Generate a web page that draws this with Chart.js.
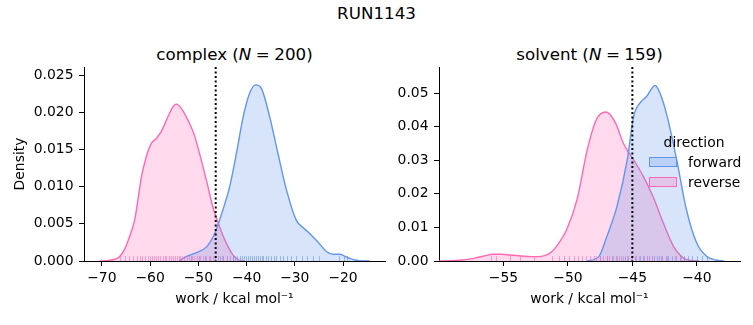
<!DOCTYPE html>
<html><head><meta charset="utf-8">
<script src="https://cdn.jsdelivr.net/npm/chart.js@4/dist/chart.umd.min.js"></script>
<style>
html,body{margin:0;padding:0;background:#fff;}
body{width:753px;height:325px;position:relative;overflow:hidden;font-family:"DejaVu Sans",sans-serif;color:#000;}
canvas{position:absolute;top:0;}
.t{position:absolute;white-space:nowrap;text-align:center;font-size:16.7px;line-height:20px;}
.lg{position:absolute;font-size:13.9px;line-height:16px;white-space:nowrap;}
.pt{position:absolute;width:28px;height:10px;box-sizing:border-box;}
.sp{display:inline-block;width:4.5px;}
</style></head><body>
<div class="t" style="left:0;width:753px;top:3px;">RUN1143</div>
<div class="t" style="left:84px;width:301px;top:44px;">complex (<i>N</i><span class="sp"></span>=<span class="sp"></span>200)</div>
<div class="t" style="left:439px;width:301px;top:44px;">solvent (<i>N</i><span class="sp"></span>=<span class="sp"></span>159)</div>
<canvas id="c1" width="390" height="325" style="left:0;"></canvas>
<canvas id="c2" width="363" height="325" style="left:390px;"></canvas>
<div class="lg" style="left:0;width:1388px;text-align:center;top:134px;">direction</div>
<div class="pt" style="left:649px;top:157px;background:rgba(100,149,237,0.25);border:1px solid rgb(100,149,237);"></div>
<div class="pt" style="left:649px;top:177px;background:rgba(255,105,180,0.25);border:1px solid rgb(255,105,180);"></div>
<div class="lg" style="left:688px;top:154px;">forward</div>
<div class="lg" style="left:688px;top:174px;">reverse</div>
<script>
// ---- data ----
const complexRevX = [-70.5,-69.1,-67.5,-66.3,-65.2,-64.25,-63.2,-62.5,-61.8,-60.8,-59.75,-58.7,-57.7,-56.3,-55.3,-54.57,-53.6,-52.5,-51.6,-50.8,-49.4,-48.0,-47.0,-45.6,-44.2,-42.8,-41.8,-40.5];
const complexRevY = [0,0.00005,0.0002,0.0006,0.0017,0.0033,0.0055,0.0083,0.0113,0.0140,0.0158,0.0165,0.0174,0.0194,0.0207,0.0211,0.0206,0.0194,0.0182,0.0169,0.0136,0.0100,0.0073,0.0046,0.0024,0.0008,0.0002,0];
const complexFwdX = [-54,-52.5,-50.5,-48.3,-46.6,-44.9,-43.5,-42.1,-40.7,-39.4,-38.1,-36.9,-35.2,-33.5,-31.7,-29.7,-28.3,-26.9,-25,-23.4,-22,-20.7,-19.5,-18.6,-17.3,-15.9,-14.5];
const complexFwdY = [0,0.0006,0.0011,0.0019,0.0037,0.0069,0.0100,0.0145,0.0194,0.0225,0.0237,0.0232,0.0194,0.0145,0.0095,0.0055,0.0045,0.0037,0.0024,0.00125,0.0009,0.0009,0.0006,0.00036,0.0001,0,0];
const solventRevX = [-60,-59.1,-58.2,-57.3,-56.5,-55.8,-55.1,-54.5,-53.6,-52.9,-52.3,-51.8,-51.3,-50.9,-50.1,-49.3,-48.5,-47.8,-47.04,-46.3,-45.7,-44.9,-44.15,-43.4,-42.6,-41.8,-41.0,-40.5,-39.8];
const solventRevY = [0,0.0001,0.0003,0.0008,0.0015,0.0020,0.0020,0.0018,0.0015,0.0013,0.0013,0.0016,0.0026,0.0043,0.0093,0.0182,0.0331,0.0421,0.0444,0.0411,0.0351,0.0301,0.0252,0.0192,0.0113,0.0043,0.0008,0.0002,0];
const solventFwdX = [-48.5,-47.6,-46.98,-46.2,-45.4,-44.9,-44.4,-43.9,-43.24,-42.85,-42.3,-41.56,-40.8,-40.0,-39.2,-38.5,-37.9];
const solventFwdY = [0,0.0013,0.0073,0.0162,0.0301,0.0431,0.0471,0.049,0.0523,0.050,0.0431,0.0301,0.0152,0.0053,0.0013,0.0003,0];

const complexRevRug = [-66.2,-65.1,-64.3,-63.5,-62.8,-62.1,-61.6,-61.0,-60.5,-60.1,-59.6,-59.2,-58.8,-58.3,-57.9,-57.4,-57.0,-56.6,-56.1,-55.7,-55.3,-54.9,-54.5,-54.1,-53.7,-53.3,-52.9,-52.4,-51.9,-51.4,-50.9,-50.3,-49.7,-49.1,-48.4,-47.7,-46.9,-46.0,-45.1,-44.0,-42.9];
const complexFwdRug = [-51.5,-49.8,-48.6,-47.5,-46.5,-45.6,-44.8,-44.1,-43.5,-42.9,-42.4,-41.9,-41.4,-40.9,-40.5,-40.1,-39.7,-39.3,-38.9,-38.5,-38.1,-37.7,-37.3,-36.9,-36.5,-36.0,-35.5,-35.0,-34.4,-33.8,-33.1,-32.4,-31.6,-30.7,-29.8,-28.6,-27.4,-26.2,-25.0,-20.8,-19.9,-19.2];
const solventRevRug = [-56.0,-55.6,-54.5,-53.7,-52.6,-51.2,-50.7,-50.3,-49.9,-49.5,-49.2,-48.9,-48.6,-48.3,-48.0,-47.8,-47.5,-47.3,-47.0,-46.8,-46.5,-46.3,-46.0,-45.7,-45.4,-45.1,-44.8,-44.5,-44.1,-43.7,-43.3,-42.8,-42.3,-41.7,-41.2];
const solventFwdRug = [-47.5,-47.0,-46.6,-46.2,-45.9,-45.6,-45.3,-45.0,-44.7,-44.4,-44.2,-43.9,-43.7,-43.5,-43.3,-43.1,-42.9,-42.7,-42.4,-42.2,-41.9,-41.6,-41.3,-41.0,-40.7,-40.4,-40.0,-39.6,-39.2];

const complexDG = -46.4;
const solventDG = -45.0;

const xTicksL = [-70,-60,-50,-40,-30,-20];
const yTicksL = [0,0.005,0.010,0.015,0.020,0.025];
const xTicksR = [-55,-50,-45,-40];
const yTicksR = [0,0.01,0.02,0.03,0.04,0.05];

// ---- styling ----
const BLUE = 'rgb(100,149,237)', BLUE_F = 'rgba(100,149,237,0.25)', BLUE_R = 'rgba(100,149,237,0.6)';
const PINK = 'rgb(255,105,180)', PINK_F = 'rgba(255,105,180,0.25)', PINK_R = 'rgba(255,105,180,0.6)';
Chart.defaults.color = '#000';
Chart.defaults.font.family = '"DejaVu Sans", sans-serif';
Chart.defaults.font.size = 13.9;

const pts = (xs, ys) => xs.map((x, i) => ({x, y: ys[i]}));
const minus = v => String(v).replace('-', '\u2212');

const overlay = {
  id: 'overlay',
  afterDatasetsDraw(chart, args, o) {
    const {ctx, chartArea: a, scales: {x}} = chart;
    ctx.save();
    const h = (a.bottom - a.top) * 0.025;
    ctx.lineWidth = 1;
    o.rugs.forEach(r => {
      ctx.strokeStyle = r.color;
      r.values.forEach(v => {
        const px = Math.round(x.getPixelForValue(v)) + 0.5;
        ctx.beginPath(); ctx.moveTo(px, a.bottom); ctx.lineTo(px, a.bottom - h); ctx.stroke();
      });
    });
    const px = x.getPixelForValue(o.dg);
    ctx.strokeStyle = '#000'; ctx.lineWidth = 2; ctx.setLineDash([2, 2.5]);
    ctx.beginPath(); ctx.moveTo(px, a.top); ctx.lineTo(px, a.bottom); ctx.stroke();
    ctx.restore();
  }
};

function panel(id, cfg) {
  return new Chart(document.getElementById(id), {
    type: 'line',
    data: {datasets: [
      {data: pts(cfg.fx, cfg.fy), borderColor: BLUE, backgroundColor: BLUE_F, fill: 'origin', borderWidth: 1.4, pointRadius: 0, cubicInterpolationMode: 'monotone'},
      {data: pts(cfg.rx, cfg.ry), borderColor: PINK, backgroundColor: PINK_F, fill: 'origin', borderWidth: 1.4, pointRadius: 0, cubicInterpolationMode: 'monotone'}
    ]},
    options: {
      responsive: false, animation: false, devicePixelRatio: 1,
      layout: {padding: {top: 67, right: cfg.padR, left: 0, bottom: 0}},
      plugins: {legend: {display: false}, tooltip: {enabled: false},
        overlay: {dg: cfg.dg, rugs: [{values: cfg.fRug, color: BLUE_R}, {values: cfg.rRug, color: PINK_R}]}},
      scales: {
        x: {type: 'linear', min: cfg.xmin, max: cfg.xmax,
          afterBuildTicks: s => { s.ticks = cfg.xt.map(v => ({value: v})); },
          afterFit: s => { s.height = 64; },
          grid: {drawOnChartArea: false, drawTicks: true, tickLength: 5, color: '#000', lineWidth: 1},
          border: {display: true, color: '#000', width: 1},
          ticks: {padding: 4, maxRotation: 0, autoSkip: false, callback: v => minus(v)},
          title: {display: true, text: 'work / kcal mol\u207B\u00B9', padding: {top: 0, bottom: 17.5}}},
        y: {type: 'linear', min: 0, max: cfg.ymax,
          afterBuildTicks: s => { s.ticks = cfg.yt.map(v => ({value: v})); },
          afterFit: s => { s.width = cfg.yw; },
          grid: {drawOnChartArea: false, drawTicks: true, tickLength: 5, color: '#000', lineWidth: 1},
          border: {display: true, color: '#000', width: 1},
          ticks: {padding: 5.5, autoSkip: false, callback: v => Number(v).toFixed(cfg.dec)},
          title: {display: cfg.ytitle, text: 'Density', padding: {top: 12.5, bottom: 0}}}
      }
    },
    plugins: [overlay]
  });
}

panel('c1', {fx: complexFwdX, fy: complexFwdY, rx: complexRevX, ry: complexRevY,
  fRug: complexFwdRug, rRug: complexRevRug, dg: complexDG,
  xmin: -73.7, xmax: -11.3, ymax: 0.0261, xt: xTicksL, yt: yTicksL, dec: 3, yw: 84, padR: 5, ytitle: true});
panel('c2', {fx: solventFwdX, fy: solventFwdY, rx: solventRevX, ry: solventRevY,
  fRug: solventFwdRug, rRug: solventRevRug, dg: solventDG,
  xmin: -60, xmax: -36.65, ymax: 0.0578, xt: xTicksR, yt: yTicksR, dec: 2, yw: 49, padR: 13, ytitle: false});
</script>
</body></html>
